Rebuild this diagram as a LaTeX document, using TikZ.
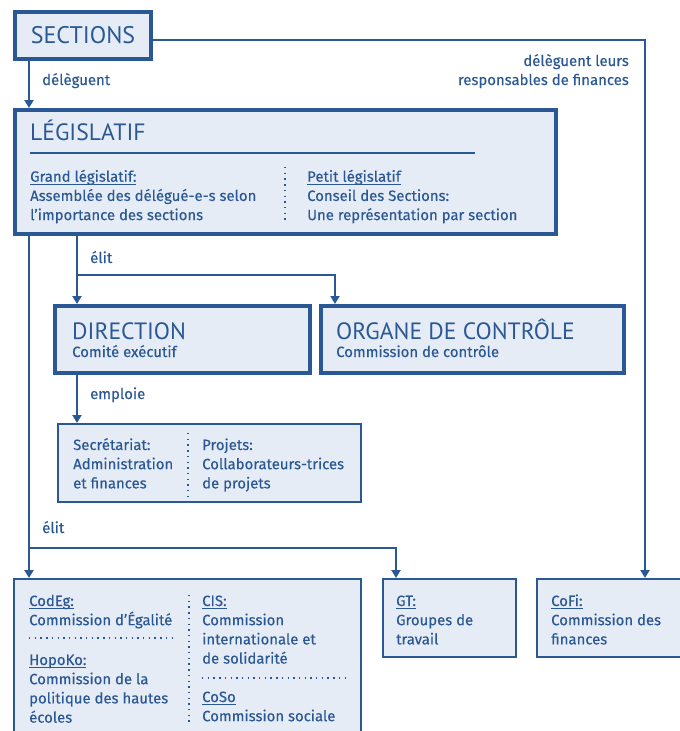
\documentclass[tikz,border=0pt]{standalone}
\usepackage{fontspec}
\setmainfont{PT Sans}
\newfontfamily\bodyfont{Fira Sans}[FakeBold=0.3]
\usetikzlibrary{arrows.meta}
\definecolor{ink}{HTML}{2A5894}
\definecolor{pale}{HTML}{E6ECF5}
% underlined heading word, rule set just below the baseline
\newcommand\ulbar[1]{\setbox0\hbox{#1}\rlap{\color{ink}\rule[-3pt]{\wd0}{1.1pt}}\box0}
% a column of text lines, one named node per line
\newcommand\colstack[4]{\foreach \lineitem [count=\i from 0] in {#4}{\node[txt, anchor=base west] (#1-\i) at (#2,{#3+19.2*\i}) {\lineitem};}}
\begin{document}
\begin{tikzpicture}[x=1pt,y=-1pt,
  heavy/.style={draw=ink, line width=4pt, fill=pale, inner sep=0, anchor=north west, text=ink},
  light/.style={draw=ink, line width=2.4pt, fill=pale, inner sep=0, anchor=north west},
  txt/.style={text=ink, font=\bodyfont\fontsize{14.9}{19}\selectfont, inner sep=0},
  title/.style={text=ink, font=\fontsize{23.6}{26}\selectfont, inner sep=0, anchor=base west},
  link/.style={draw=ink, line width=2pt},
  arr/.style={link, -{Triangle[width=9pt,length=8pt]}},
  dots/.style={draw=ink, line width=1.4pt, dash pattern=on 1.4pt off 4.3pt}]
\useasboundingbox (0,0) rectangle (680,731);
\clip (0,0) rectangle (680,731);
\fill[white] (0,0) rectangle (680,731);

% boxes
\node[heavy, minimum width=136pt, minimum height=47pt] (sec) at (13,10) {\fontsize{24}{26}\selectfont SECTIONS};
\node[heavy, minimum width=541pt, minimum height=124pt] (leg) at (13,108) {};
\node[heavy, minimum width=255pt, minimum height=67pt] (dir) at (53,304) {};
\node[heavy, minimum width=303pt, minimum height=67pt] (org) at (319,304) {};
\node[light, minimum width=302.6pt, minimum height=77.6pt] (sec2) at (57,423) {};
\node[light, minimum width=346.6pt, minimum height=189.6pt] (bl) at (13,578) {};
\node[light, minimum width=132.6pt, minimum height=77.6pt] (gt) at (382,578) {};
\node[light, minimum width=181.6pt, minimum height=77.6pt] (cofi) at (536,578) {};

% guide coordinates for the connector routes
\coordinate (xa) at (29,0);
\coordinate (xb) at (77,0);
\coordinate (xc) at (335,0);
\coordinate (xg) at (396,0);
\coordinate (xf) at (645,0);
\coordinate (ysec) at (0,40);
\coordinate (yelit) at (0,275);
\coordinate (yelit2) at (0,548);

% connectors
\draw[arr] (sec.south -| xa) -- (leg.north -| xa);
\draw[arr] (sec.east |- ysec) -| (cofi.north -| xf);
\draw[arr] (leg.south -| xb) -- (dir.north -| xb);
\draw[arr] (leg.south -| xb) |- (yelit -| xc) -- (org.north -| xc);
\draw[arr] (dir.south -| xb) -- (sec2.north -| xb);
\draw[arr] (leg.south -| xa) -- (bl.north -| xa);
\draw[arr] (leg.south -| xa) |- (yelit2 -| xg) -- (gt.north -| xg);

% connector labels
\node[txt, anchor=base west] (lab1) at (42,85) {délèguent};
\node[txt, anchor=base east] (lab2a) at (629,66) {délèguent leurs};
\node[txt, anchor=base east] (lab2b) at (629,85) {responsables de finances};
\node[txt, anchor=base west] (lab3) at (90,263) {élit};
\node[txt, anchor=base west] (lab4) at (90,399) {emploie};
\node[txt, anchor=base west] (lab5) at (42,533) {élit};

% legislative
\node[title] (legT) at (30,140.7) {LÉGISLATIF};
\draw[ink, line width=1.3pt] (30,153) -- (475,153);
\colstack{legL}{30}{181.7}{{\ulbar{Grand législatif:}},Assemblée des délégué-e-s selon,l’importance des sections}
\colstack{legR}{307}{181.7}{{\ulbar{Petit législatif}},Conseil des Sections:,Une représentation par section}
\draw[dots] (285,167) -- (285,220);

% executive and control
\node[title] (dirT) at (72,339) {DIRECTION};
\node[txt, anchor=base west] (dirS) at (72,357) {Comité exécutif};
\node[title] (orgT) at (336,339) {ORGANE DE CONTRÔLE};
\node[txt, anchor=base west] (orgS) at (336,357) {Commission de contrôle};

% secretariat
\colstack{secL}{73}{450}{Secrétariat:,Administration,et finances}
\colstack{secR}{202}{450}{Projets:,Collaborateurs-trices,de projets}
\draw[dots] (188,433) -- (188,497);

% commissions
\colstack{blA}{29}{606}{{\ulbar{CodEg:}},Commission d’Égalité}
\draw[dots] (29,638) -- (174,638);
\colstack{blB}{29}{665}{{\ulbar{HopoKo:}},Commission de la,politique des hautes,écoles}
\colstack{blC}{202}{606}{{\ulbar{CIS:}},Commission,internationale et,de solidarité}
\draw[dots] (202,678) -- (349,678);
\colstack{blD}{202}{702}{{\ulbar{CoSo}},Commission sociale}
\draw[dots] (189,595) -- (189,726);

\colstack{gt}{396}{606}{{\ulbar{GT:}},Groupes de,travail}
\colstack{cf}{551}{606}{{\ulbar{CoFi:}},Commission des,finances}
\end{tikzpicture}
\end{document}
